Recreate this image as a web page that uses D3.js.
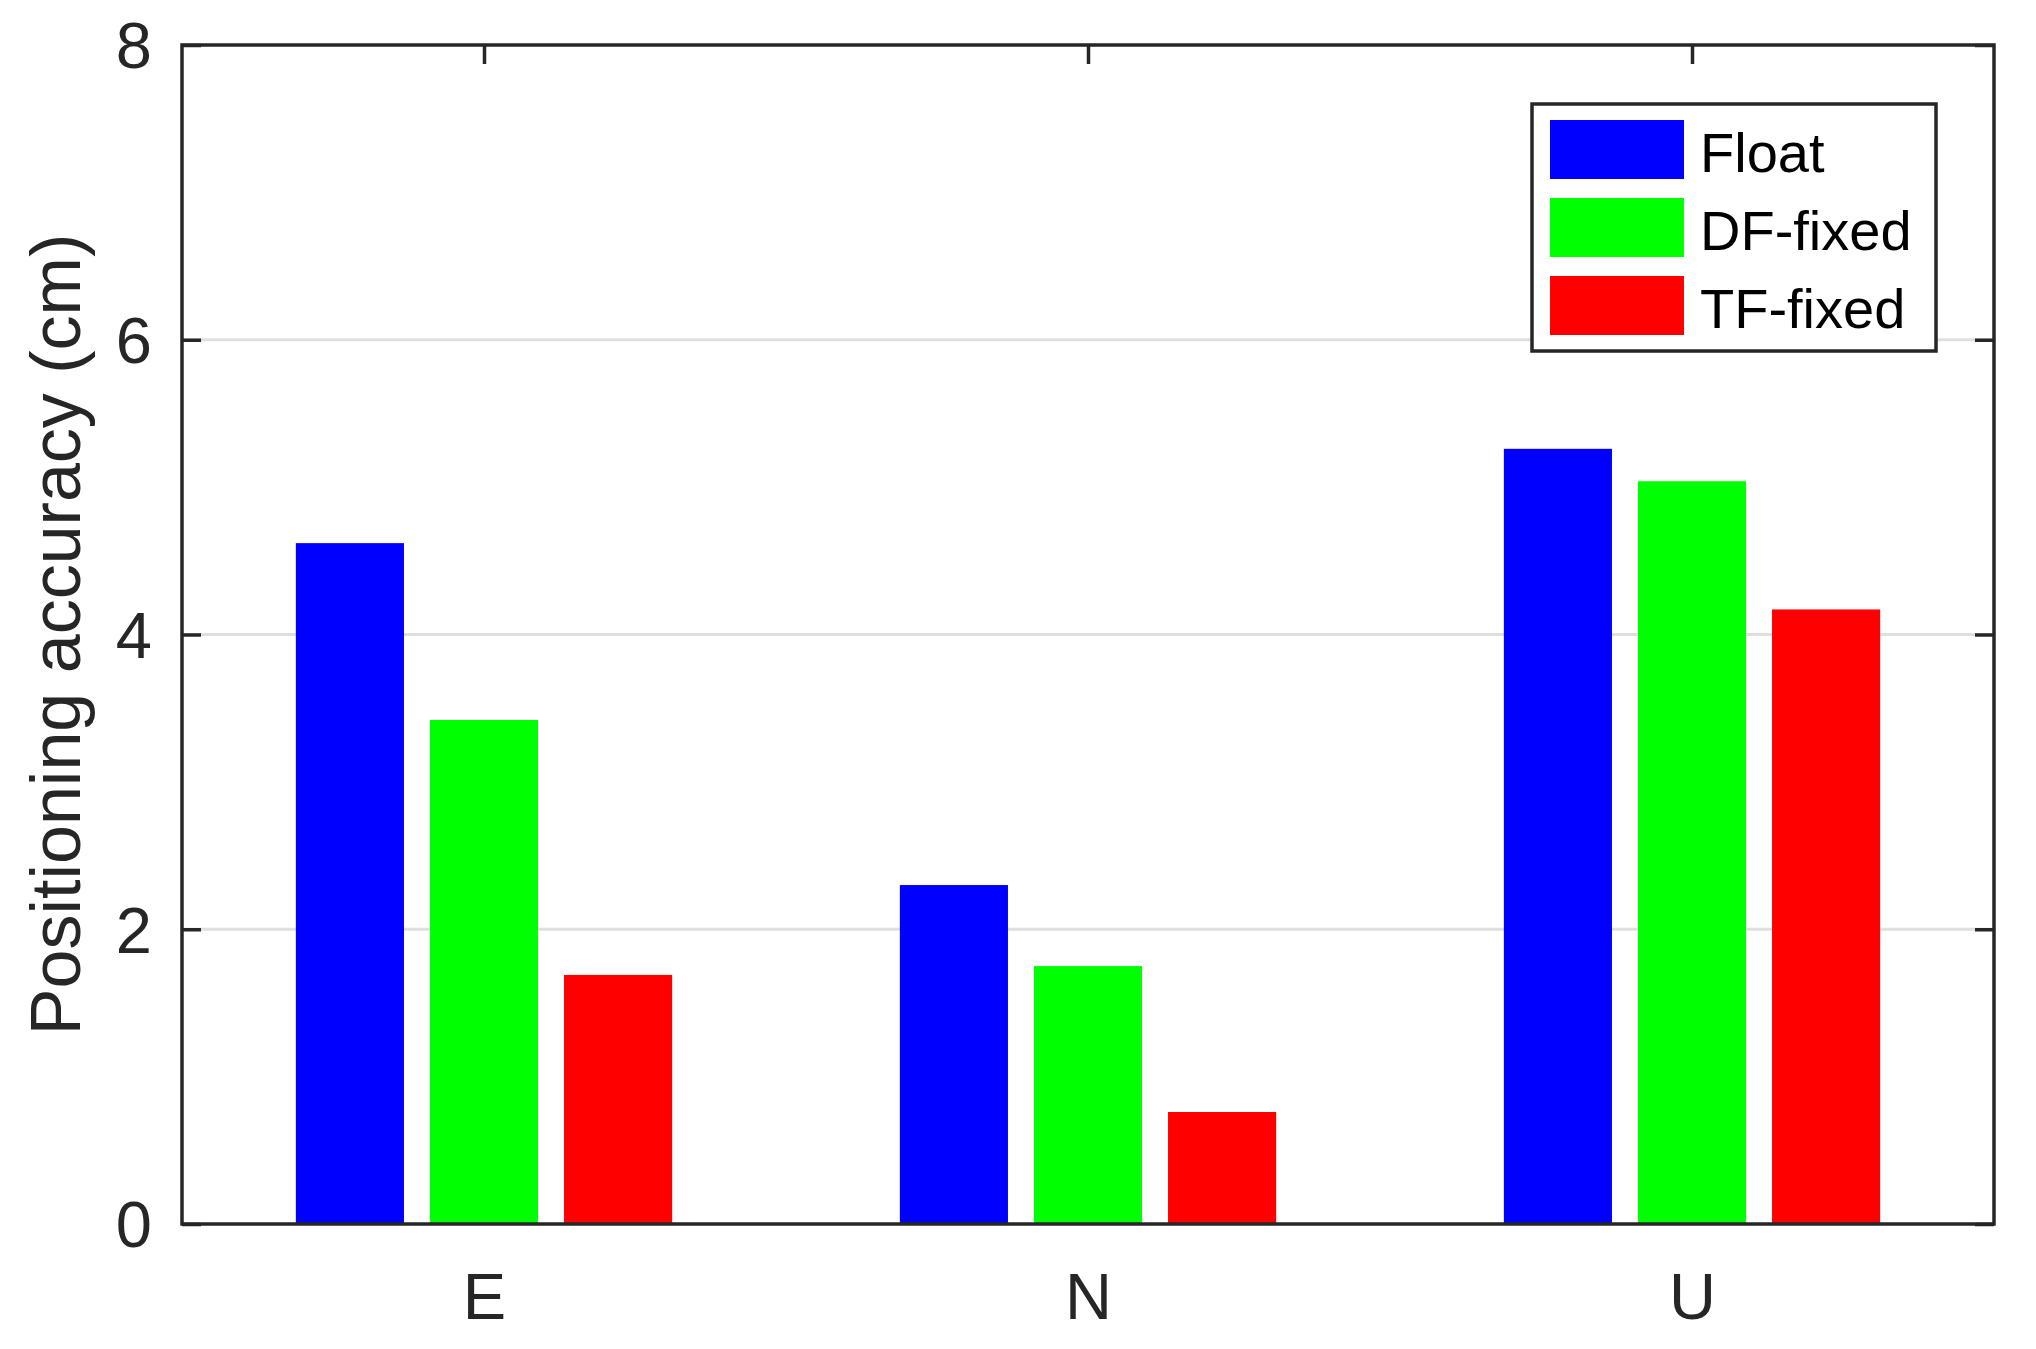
<!DOCTYPE html>
<head>
  <meta charset="utf-8">
  <script src="https://d3js.org/d3.v7.min.js"></script>
  <style>
    body { margin:0; background:#fff; }
    text { font-family: "Liberation Sans", Arial, sans-serif; }
  </style>
</head>
<body>
<script>

// data
var categories = ["E", "N", "U"];
var seriesNames = ["Float", "DF-fixed", "TF-fixed"];
var floatVals = [4.62, 2.30, 5.26];
var dfVals = [3.42, 1.75, 5.04];
var tfVals = [1.69, 0.76, 4.17];
var yTicks = [0, 2, 4, 6, 8];

var seriesVals = [floatVals, dfVals, tfVals];
var colors = ["#0000ff", "#00ff00", "#ff0000"];

var width = 2036, height = 1349;
// plot box (window.top is taken, so plain "top" can't be used)
var box = {left: 182, right: 1994, top: 45, bottom: 1224};
var ink = "#262626";

var svg = d3.select("body").append("svg")
  .attr("width", width)
  .attr("height", height);

var x = d3.scaleLinear().domain([0.5, 3.5]).range([box.left, box.right]);
var y = d3.scaleLinear().domain([0, 8]).range([box.bottom, box.top]);

// grid lines behind bars
svg.append("g").selectAll("line")
  .data(yTicks.filter(function(d){ return d > 0 && d < 8; }))
  .enter().append("line")
  .attr("x1", box.left).attr("x2", box.right)
  .attr("y1", function(d){ return y(d); })
  .attr("y2", function(d){ return y(d); })
  .attr("stroke", "#dfdfdf")
  .attr("stroke-width", 3);

// axes (ticks sit under the bars, like the original)
var yLeft = d3.axisLeft(y).tickValues(yTicks).tickSize(-19).tickPadding(30).tickFormat(d3.format("d"));
var yRight = d3.axisRight(y).tickValues(yTicks).tickSize(-19).tickFormat("");
var xBottom = d3.axisBottom(x).tickValues([1, 2, 3]).tickSize(-19)
  .tickFormat(function(d){ return categories[d - 1]; });
var xTop = d3.axisTop(x).tickValues([1, 2, 3]).tickSize(-19).tickFormat("");

function styleAxis(g){
  g.select(".domain").remove();
  g.selectAll("line").attr("stroke", ink).attr("stroke-width", 3.5);
  g.selectAll("text").attr("fill", ink).style("font-size", "65px");
}

svg.append("g").attr("transform", "translate(" + box.left + ",0)").call(yLeft).call(styleAxis)
  .selectAll("text").attr("dy", "0.35em");
svg.append("g").attr("transform", "translate(" + box.right + ",0)").call(yRight).call(styleAxis);
svg.append("g").attr("transform", "translate(0," + box.top + ")").call(xTop).call(styleAxis);
svg.append("g").attr("transform", "translate(0," + box.bottom + ")").call(xBottom).call(styleAxis)
  .selectAll("text").attr("dy", null).attr("y", 95);

// bars
var offsets = [-0.222, 0, 0.222];
var barW = 0.179;
var bars = [];
seriesVals.forEach(function(vals, s){
  vals.forEach(function(v, i){
    bars.push({s: s, i: i, v: v});
  });
});

svg.append("g").selectAll("rect")
  .data(bars)
  .enter().append("rect")
  .attr("x", function(d){ return x(d.i + 1 + offsets[d.s] - barW/2); })
  .attr("width", function(d){ return x(barW) - x(0); })
  .attr("y", function(d){ return y(d.v); })
  .attr("height", function(d){ return y(0) - y(d.v); })
  .attr("fill", function(d){ return colors[d.s]; });

// axes box
svg.append("rect")
  .attr("x", box.left).attr("y", box.top)
  .attr("width", box.right - box.left).attr("height", box.bottom - box.top)
  .attr("fill", "none")
  .attr("stroke", ink)
  .attr("stroke-width", 3.5);

// y label
svg.append("text")
  .attr("transform", "translate(80," + ((box.top + box.bottom) / 2) + ") rotate(-90)")
  .attr("text-anchor", "middle")
  .attr("fill", ink)
  .style("font-size", "70px")
  .text("Positioning accuracy (cm)");

// legend
var lg = svg.append("g");
lg.append("rect")
  .attr("x", 1532).attr("y", 104)
  .attr("width", 404).attr("height", 247)
  .attr("fill", "#fff")
  .attr("stroke", ink)
  .attr("stroke-width", 3.5);

var items = lg.selectAll(".item")
  .data(seriesNames)
  .enter().append("g")
  .attr("class", "item")
  .attr("transform", function(d, i){ return "translate(1550," + (120 + i * 78) + ")"; });

items.append("rect")
  .attr("width", 134).attr("height", 59)
  .attr("fill", function(d, i){ return colors[i]; });

items.append("text")
  .attr("x", 150).attr("y", 52)
  .attr("fill", "#000")
  .style("font-size", "56px")
  .text(function(d){ return d; });

</script>
</body>
